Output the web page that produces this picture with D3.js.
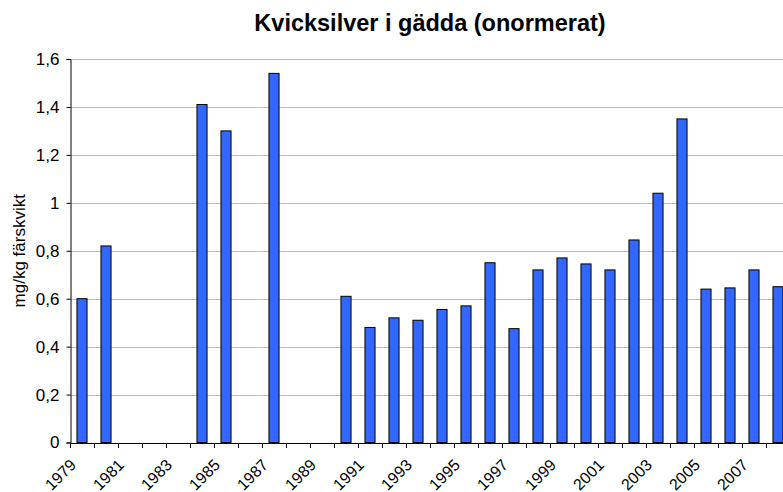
<!DOCTYPE html>
<html>
<head>
<meta charset="utf-8">
<script src="https://cdn.jsdelivr.net/npm/d3@7"></script>
<style>
  body { margin: 0; background: #fff; }
  text { font-family: "Liberation Sans", Arial, sans-serif; }
</style>
</head>
<body>
<svg id="chart" width="783" height="492"></svg>
<script>
// years 1979-2008, null = no sample
var years = d3.range(1979, 2009);
var values = [0.60, 0.82, null, null, null, 1.41, 1.30, null, 1.54, null, null,
  0.61, 0.48, 0.52, 0.51, 0.555, 0.57, 0.75, 0.475, 0.72, 0.77, 0.745, 0.72,
  0.845, 1.04, 1.35, 0.64, 0.645, 0.72, 0.65];
var yTicks = [0, 0.2, 0.4, 0.6, 0.8, 1, 1.2, 1.4, 1.6];
var titel = "Kvicksilver i gädda (onormerat)";
var yTitel = "mg/kg färskvikt";

var svg = d3.select("#chart");
var mLeft = 70, mRight = 790, mTop = 59, mBottom = 442.5;

var x = d3.scaleBand().domain(years).range([mLeft, mRight]).paddingInner(0.58).paddingOuter(0.29);
var xCat = d3.scaleBand().domain(years).range([mLeft, mRight]).padding(0);
var y = d3.scaleLinear().domain([0, 1.6]).range([mBottom, mTop]);

var fmt = function(v){ return String(v).replace(".", ","); };

// gridlines
svg.append("g").selectAll("line").data(yTicks.slice(1)).enter().append("line")
  .attr("x1", mLeft).attr("x2", mRight)
  .attr("y1", function(d){ return Math.round(y(d)) + 0.5; })
  .attr("y2", function(d){ return Math.round(y(d)) + 0.5; })
  .attr("stroke", "#c0c0c0").attr("stroke-width", 1);

// bars
var data = years.map(function(yr, i){ return {year: yr, value: values[i]}; })
  .filter(function(d){ return d.value != null; });
svg.append("g").selectAll("rect").data(data).enter().append("rect")
  .attr("x", function(d){ return x(d.year); })
  .attr("y", function(d){ return y(d.value); })
  .attr("width", x.bandwidth())
  .attr("height", function(d){ return y(0) - y(d.value); })
  .attr("fill", "#3366ff").attr("stroke", "#000").attr("stroke-width", 1);

// y axis
var yAxis = svg.append("g").attr("transform", "translate(" + (mLeft + 0.5) + ",0)")
  .call(d3.axisLeft(y).tickValues(yTicks).tickFormat(fmt).tickSize(4).tickPadding(7));
yAxis.select(".domain").attr("stroke", "#000");
yAxis.selectAll(".tick line").attr("stroke", "#000");
yAxis.selectAll("text").attr("font-size", 17).attr("fill", "#000")
  .attr("font-family", "Liberation Sans, Arial, sans-serif");

// x axis line + category ticks
var xg = svg.append("g");
xg.append("line").attr("x1", mLeft).attr("x2", mRight)
  .attr("y1", Math.round(mBottom) + 0.5).attr("y2", Math.round(mBottom) + 0.5)
  .attr("stroke", "#000");
xg.selectAll("line.tick").data(years).enter().append("line")
  .attr("class", "tick")
  .attr("x1", function(d){ return Math.round(xCat(d)) + 0.5; })
  .attr("x2", function(d){ return Math.round(xCat(d)) + 0.5; })
  .attr("y1", Math.round(mBottom)).attr("y2", Math.round(mBottom) + 5)
  .attr("stroke", "#000");

xg.selectAll("text").data(years.filter(function(d, i){ return i % 2 == 0; })).enter().append("text")
  .attr("transform", function(d){
    return "translate(" + (xCat(d) + xCat.bandwidth() / 2 - 5) + "," + (mBottom + 23.5) + ") rotate(-45)";
  })
  .attr("text-anchor", "end")
  .attr("font-size", 16)
  .text(function(d){ return d; });

// titles
svg.append("text").attr("x", 430).attr("y", 31).attr("text-anchor", "middle")
  .attr("font-size", 23.5).attr("font-weight", "bold").text(titel);
svg.append("text").attr("transform", "translate(25," + ((mTop + mBottom) / 2) + ") rotate(-90)")
  .attr("text-anchor", "middle").attr("font-size", 17).text(yTitel);
</script>
</body>
</html>
